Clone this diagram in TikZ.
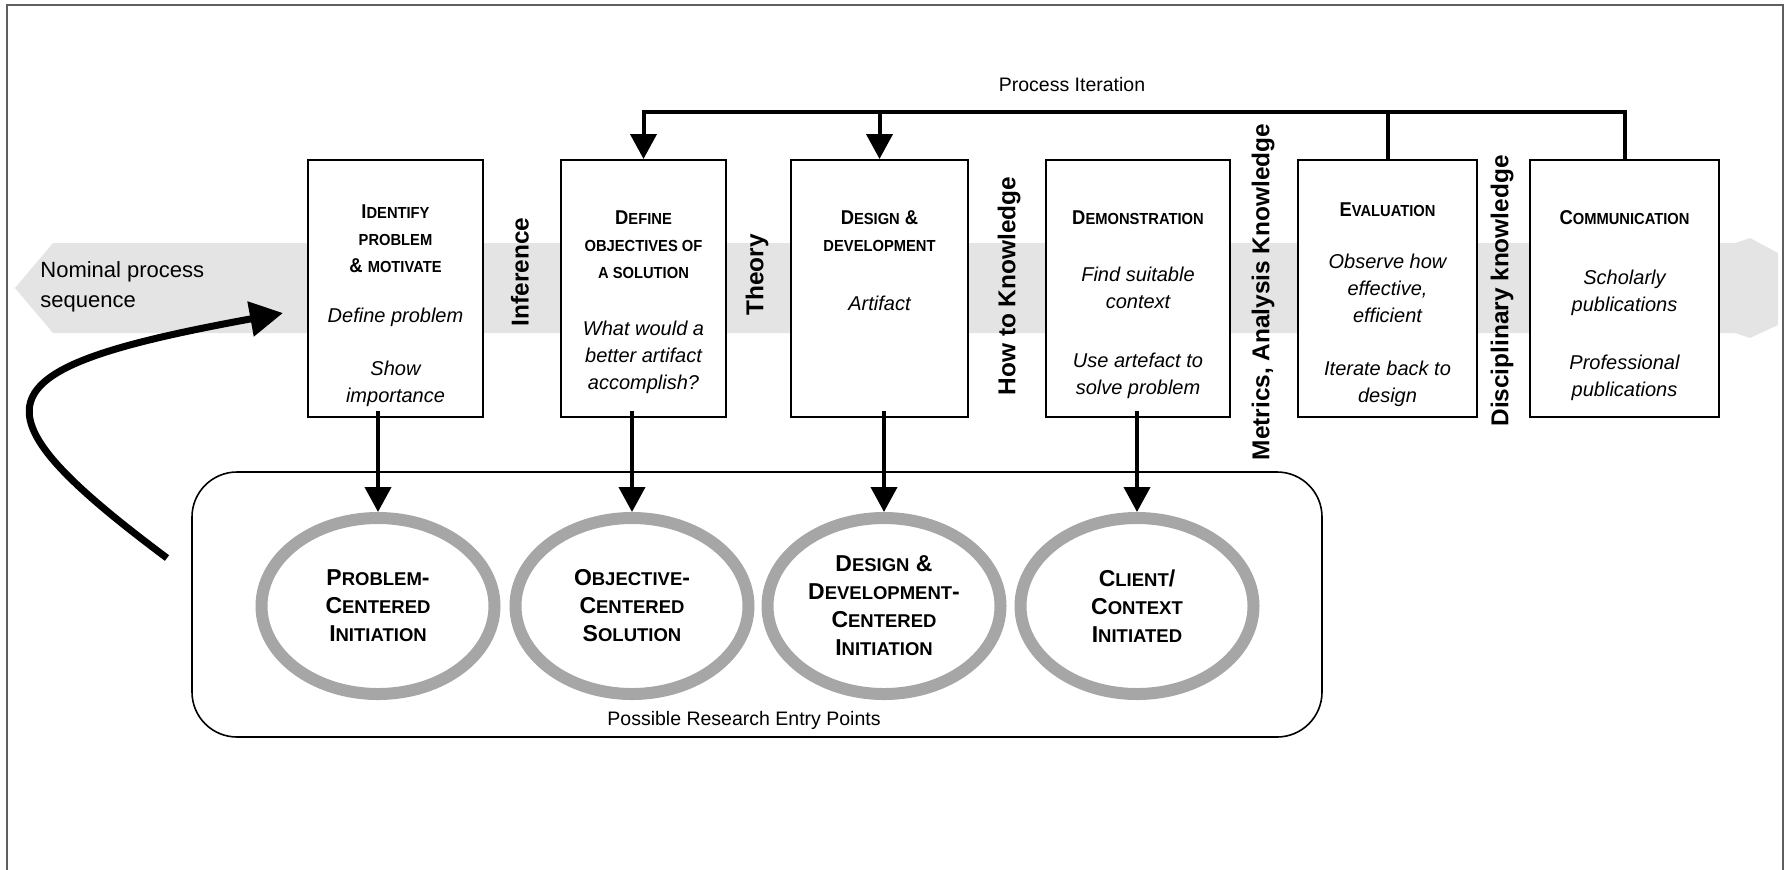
\documentclass[tikz,border=0pt]{standalone}
\usepackage{fontspec}
\setmainfont{Liberation Sans}
\newfontfamily\narrowfont{Liberation Sans}[FakeStretch=0.92]
\usetikzlibrary{arrows.meta,shapes.geometric}
\definecolor{bandgray}{RGB}{227,228,227}
\definecolor{ringgray}{RGB}{166,166,166}
\definecolor{framegray}{RGB}{95,95,95}
\newcommand{\sml}[1]{{\fontsize{8}{13.5}\selectfont #1}}
\newcommand{\esml}[1]{{\fontsize{9.25}{14}\selectfont #1}}
\newcommand{\bd}[1]{{\normalfont\mdseries\itshape\fontsize{10}{13.5}\selectfont #1}}

\begin{document}
\begin{tikzpicture}[x=0.5pt,y=-0.5pt,
    stage/.style={draw, line width=1pt, fill=white, minimum height=128.5pt, inner sep=0pt},
    stagetext/.style={anchor=north, align=center, inner sep=0pt, font=\narrowfont\bfseries\fontsize{10}{13.5}\selectfont},
    entry/.style={ellipse, draw=ringgray, line width=6pt, inner sep=0pt, minimum width=116.5pt, minimum height=88pt, align=center, font=\bfseries\fontsize{11.5}{14}\selectfont},
    know/.style={rotate=90, inner sep=0pt, font=\bfseries\fontsize{12.2}{14}\selectfont},
    notetext/.style={inner sep=0pt, font=\fontsize{9.75}{12}\selectfont},
    flow/.style={line width=2pt, -{Triangle[length=12.5pt,width=13pt]}},
    link/.style={line width=2pt}]
    \useasboundingbox (0,0) rectangle (1792,869);
    \draw[framegray, line width=1pt] (7,880) -- (7,5) -- (1783,5) -- (1783,880);

    % nominal sequence band
    \fill[bandgray] (15,288) -- (53,243) -- (1735,243) -- (1750,238) -- (1778,253) -- (1778,325)
        -- (1750,338) -- (1735,333) -- (53,333) -- cycle;
    \node[anchor=west, align=left, inner sep=0pt, font=\fontsize{11}{15}\selectfont] (nominal) at (40,287) {Nominal process\\sequence};

    % process stages
    \node[stage, minimum width=87.5pt] (s1) at (395.5,288.5) {};
    \node[stage, minimum width=82.5pt] (s2) at (643.5,288.5) {};
    \node[stage, minimum width=88.5pt] (s3) at (879.5,288.5) {};
    \node[stage, minimum width=92pt] (s4) at (1138,288.5) {};
    \node[stage, minimum width=89.5pt] (s5) at (1387.5,288.5) {};
    \node[stage, minimum width=94.5pt] (s6) at (1624.5,288.5) {};

    \node[stagetext] (t1) at (395.5,204) {I\sml{DENTIFY}\\\sml{PROBLEM}\\\&~\sml{MOTIVATE}\\[11.5pt]\bd{Define problem}\\[13pt]\bd{Show}\\\bd{importance}};
    \node[stagetext] (t2) at (643.5,210) {D\sml{EFINE}\\\sml{OBJECTIVES OF}\\\sml{A SOLUTION}\\[15pt]\bd{What would a}\\\bd{better artifact}\\\bd{accomplish?}};
    \node[stagetext] (t3) at (879.5,210) {D\sml{ESIGN} \&\\\sml{DEVELOPMENT}\\[16pt]\bd{Artifact}};
    \node[stagetext] (t4) at (1138,210) {D\sml{EMONSTRATION}\\[15pt]\bd{Find suitable}\\\bd{context}\\[16pt]\bd{Use artefact to}\\\bd{solve problem}};
    \node[stagetext] (t5) at (1387.5,202) {E\sml{VALUATION}\\[12.5pt]\bd{Observe how}\\\bd{effective,}\\\bd{efficient}\\[13pt]\bd{Iterate back to}\\\bd{design}};
    \node[stagetext] (t6) at (1624.5,210) {C\sml{OMMUNICATION}\\[16.5pt]\bd{Scholarly}\\\bd{publications}\\[15.5pt]\bd{Professional}\\\bd{publications}};

    % knowledge between stages
    \node[know] (k1) at (520,272) {Inference};
    \node[know] (k2) at (757,275) {Theory};
    \node[know] (k3) at (1009,286) {How to Knowledge};
    \node[know] (k4) at (1263,292) {Metrics, Analysis Knowledge};
    \node[know] (k5) at (1502,291) {Disciplinary knowledge};

    % iteration
    \coordinate (loop) at (0,112);
    \node[notetext] (iter) at (1072,85) {Process Iteration};
    \draw[flow] (s6.north) -- (s6.north |- loop) -- (s2.north |- loop) -- (s2.north);
    \draw[flow] (s3.north |- loop) -- (s3.north);
    \draw[link] (s5.north |- loop) -- (s5.north);

    % entry points
    \node[draw, line width=0.8pt, rounded corners=22.5pt, minimum width=565pt, minimum height=132.5pt] (entries) at (757,604.5) {};
    \node[notetext] (entrylabel) at (744,720) {Possible Research Entry Points};
    \node[entry] (e1) at (378,606) {P\esml{ROBLEM}-\\C\esml{ENTERED}\\I\esml{NITIATION}};
    \node[entry] (e2) at (632,606) {O\esml{BJECTIVE}-\\C\esml{ENTERED}\\S\esml{OLUTION}};
    \node[entry] (e3) at (884,606) {D\esml{ESIGN} \&\\D\esml{EVELOPMENT}-\\C\esml{ENTERED}\\I\esml{NITIATION}};
    \node[entry] (e4) at (1137,606) {C\esml{LIENT}/\\C\esml{ONTEXT}\\I\esml{NITIATED}};

    \draw[flow] ([yshift=3.5pt]e1.north |- s1.south) -- (e1.north);
    \draw[flow] ([yshift=3.5pt]e2.north |- s2.south) -- (e2.north);
    \draw[flow] ([yshift=3.5pt]e3.north |- s3.south) -- (e3.north);
    \draw[flow] ([yshift=3.5pt]e4.north |- s4.south) -- (e4.north);

    % way back in
    \coordinate (backstart) at (167,558);
    \coordinate (backend) at (283,313);
    \draw[line width=3.5pt, -{Triangle[length=16.5pt,width=17pt]}] (backstart) .. controls (-38,405) and (-18,368) .. (backend);
\end{tikzpicture}
\end{document}
